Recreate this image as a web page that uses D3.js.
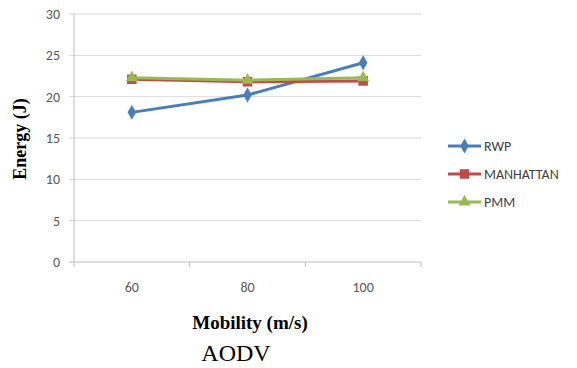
<!DOCTYPE html>
<html>
<head>
<meta charset="utf-8">
<script src="https://cdn.jsdelivr.net/npm/d3@7"></script>
<style>
  body { margin: 0; background: #fff; }
  svg { display: block; }
</style>
</head>
<body>
<svg width="577" height="368"></svg>
<script>
var categories = ["60", "80", "100"];
var rwp = [18.1, 20.2, 24.1];
var manhattan = [22.1, 21.8, 21.9];
var pmm = [22.3, 22.0, 22.3];
var yTicks = [0, 5, 10, 15, 20, 25, 30];

var series = [
  { name: "RWP", values: rwp, color: "#4a7ebb", shape: d3.symbolDiamond, size: 64 },
  { name: "MANHATTAN", values: manhattan, color: "#be4b48", shape: d3.symbolSquare, size: 90 },
  { name: "PMM", values: pmm, color: "#98b954", shape: d3.symbolTriangle, size: 64 }
];

var svg = d3.select("svg");
var plotL = 74, plotR = 421, plotT = 14, plotB = 262;

var x = d3.scaleBand().domain(categories).range([plotL, plotR]);
var y = d3.scaleLinear().domain([0, 30]).range([plotB, plotT]);

// gridlines
svg.selectAll(".grid").data(yTicks).enter().append("line")
  .attr("x1", plotL - 5).attr("x2", plotR)
  .attr("y1", function(d){ return y(d); })
  .attr("y2", function(d){ return y(d); })
  .attr("stroke", function(d){ return d === 0 ? "#bfbfbf" : "#d9d9d9"; })
  .attr("stroke-width", 1);

// y axis line
svg.append("line").attr("x1", plotL).attr("x2", plotL)
  .attr("y1", plotT).attr("y2", plotB).attr("stroke", "#bfbfbf");

// x ticks
var xt = categories.map(function(c){ return x(c); }).concat([plotR]);
svg.selectAll(".xt").data(xt).enter().append("line")
  .attr("x1", function(d){ return d; }).attr("x2", function(d){ return d; })
  .attr("y1", plotB).attr("y2", plotB + 5).attr("stroke", "#bfbfbf");

// y tick labels
svg.selectAll(".yl").data(yTicks).enter().append("text")
  .attr("x", 60).attr("y", function(d){ return y(d) + 5; })
  .attr("text-anchor", "end")
  .attr("font-family", "Carlito, 'Liberation Sans', sans-serif")
  .attr("font-size", 14).attr("fill", "#595959")
  .text(function(d){ return d; });

// x tick labels
svg.selectAll(".xl").data(categories).enter().append("text")
  .attr("x", function(d){ return x(d) + x.bandwidth() / 2; })
  .attr("y", 292).attr("text-anchor", "middle")
  .attr("font-family", "Carlito, 'Liberation Sans', sans-serif")
  .attr("font-size", 14).attr("fill", "#595959")
  .text(function(d){ return d; });

var line = d3.line()
  .x(function(d, i){ return x(categories[i]) + x.bandwidth() / 2; })
  .y(function(d){ return y(d); });

series.forEach(function(s){
  svg.append("path").datum(s.values)
    .attr("d", line).attr("fill", "none")
    .attr("stroke", s.color).attr("stroke-width", 3);
  svg.selectAll(null).data(s.values).enter().append("path")
    .attr("d", d3.symbol().type(s.shape).size(s.size))
    .attr("transform", function(d, i){
      return "translate(" + (x(categories[i]) + x.bandwidth() / 2) + "," + y(d) + ")";
    })
    .attr("fill", s.color);
});

// legend
series.forEach(function(s, i){
  var ly = 146 + i * 28;
  svg.append("line").attr("x1", 448).attr("x2", 481)
    .attr("y1", ly).attr("y2", ly)
    .attr("stroke", s.color).attr("stroke-width", 3);
  svg.append("path").attr("d", d3.symbol().type(s.shape).size(s.size))
    .attr("transform", "translate(464.5," + ly + ")").attr("fill", s.color);
  svg.append("text").attr("x", 484).attr("y", ly + 5)
    .attr("font-family", "Carlito, 'Liberation Sans', sans-serif")
    .attr("font-size", 14).attr("fill", "#404040")
    .text(s.name);
});

// axis titles
svg.append("text")
  .attr("transform", "translate(26,139) rotate(-90)")
  .attr("text-anchor", "middle")
  .attr("font-family", "'Liberation Serif', 'Times New Roman', serif")
  .attr("font-weight", "bold").attr("font-size", 18)
  .text("Energy (J)");

svg.append("text")
  .attr("x", 250).attr("y", 329).attr("text-anchor", "middle")
  .attr("font-family", "'Liberation Serif', 'Times New Roman', serif")
  .attr("font-weight", "bold").attr("font-size", 19)
  .text("Mobility (m/s)");

svg.append("text")
  .attr("x", 236).attr("y", 361).attr("text-anchor", "middle")
  .attr("font-family", "'Liberation Serif', 'Times New Roman', serif")
  .attr("font-size", 24)
  .text("AODV");
</script>
</body>
</html>
